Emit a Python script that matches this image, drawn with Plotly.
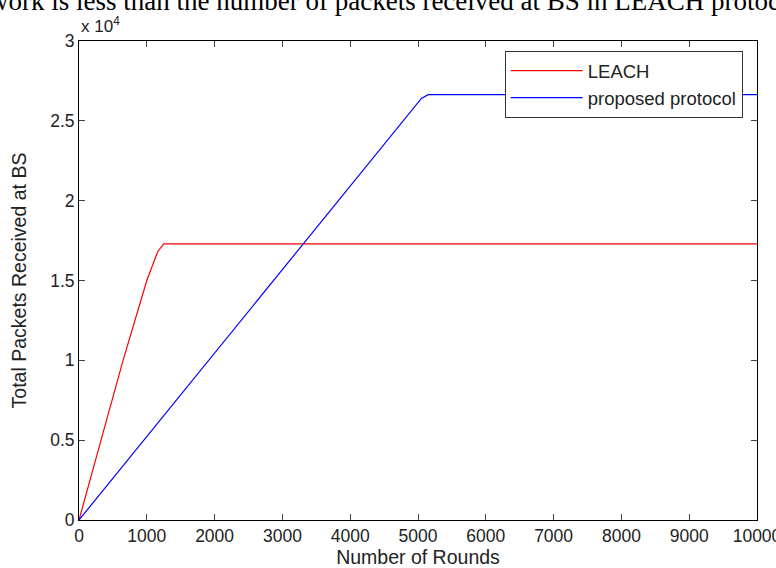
import plotly.graph_objects as go

# Data
leach_rounds = [0, 330, 650, 1000, 1100, 1160, 1250, 10000]
leach_packets = [0, 5000, 10000, 15000, 16200, 16800, 17300, 17300]

prop_rounds = [0, 5050, 5150, 10000]
prop_packets = [0, 26400, 26640, 26640]

x_tickvals = list(range(0, 10001, 1000))
x_ticktext = ["0", "1000", "2000", "3000", "4000", "5000", "6000", "7000", "8000", "9000", "10000"]
y_tickvals = [0, 5000, 10000, 15000, 20000, 25000, 30000]
y_ticktext = ["0", "0.5", "1", "1.5", "2", "2.5", "3"]

fig = go.Figure()
fig.add_trace(go.Scatter(x=leach_rounds, y=leach_packets, mode="lines",
                         name="LEACH", line=dict(color="#ff0000", width=1.2)))
fig.add_trace(go.Scatter(x=prop_rounds, y=prop_packets, mode="lines",
                         name="proposed protocol", line=dict(color="#0000ff", width=1.2)))

tick_font = dict(family="Liberation Sans, Arial, sans-serif", size=17.5, color="#222222")
title_font = dict(family="Liberation Sans, Arial, sans-serif", size=19.5, color="#222222")

fig.update_layout(
    width=776, height=568,
    margin=dict(l=79, r=19, t=41, b=48, autoexpand=False),
    paper_bgcolor="white", plot_bgcolor="white",
    showlegend=True,
    legend=dict(x=0.979, y=0.979, xanchor="right", yanchor="top",
                bgcolor="white", bordercolor="#333333", borderwidth=1,
                font=dict(family="Liberation Sans, Arial, sans-serif", size=18.5, color="#222222"),
                tracegroupgap=0, itemwidth=72),
    xaxis=dict(range=[0, 10000], tickvals=x_tickvals, ticktext=x_ticktext,
               ticks="inside", ticklen=6, ticklabeloverflow="allow",
               showline=True, linecolor="black", linewidth=1, mirror="ticks",
               showgrid=False, zeroline=False, tickfont=tick_font, automargin=False,
               title=dict(text="Number of Rounds", font=title_font, standoff=4)),
    yaxis=dict(range=[0, 30000], tickvals=y_tickvals, ticktext=y_ticktext,
               ticks="inside", ticklen=6, ticklabeloverflow="allow",
               showline=True, linecolor="black", linewidth=1, mirror="ticks",
               showgrid=False, zeroline=False, tickfont=tick_font, automargin=False,
               title=dict(text="Total Packets Received at BS", font=title_font, standoff=18)),
    annotations=[
        dict(text="x 10<sup>4</sup>", xref="paper", yref="paper", x=0, y=1,
             xanchor="left", yanchor="bottom", yshift=3, showarrow=False,
             font=dict(family="Liberation Sans, sans-serif", size=17, color="#222222")),
        dict(text="work is less than the number of packets received at BS in LEACH protocol",
             xref="paper", yref="paper", x=0, y=1, xshift=-92, yshift=40,
             xanchor="left", yanchor="middle", showarrow=False,
             font=dict(family="Liberation Serif, Times New Roman, serif", size=27, color="black")),
    ],
)

fig.write_html("out.html", config={"displayModeBar": False},
               post_script="document.body.style.margin='0';")
